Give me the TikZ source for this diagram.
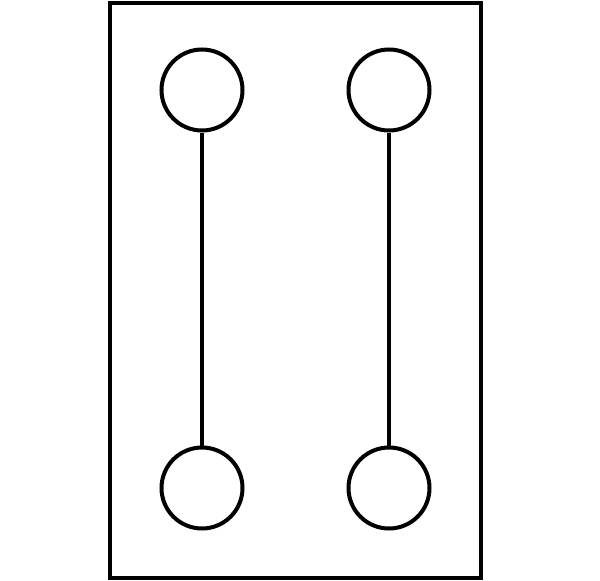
\documentclass[tikz,border=0pt]{standalone}
\begin{document}
\begin{tikzpicture}[x=1pt,y=-1pt,
  ring/.style={draw=black, circle, line width=4pt, minimum size=81pt, inner sep=0pt},
  rod/.style={draw=black, line width=3.5pt},
  frame/.style={draw=black, line width=4pt}]
\useasboundingbox (0,0) rectangle (600,581);
\draw[frame] (110,3) rectangle (481,578);
\node[ring] (tl) at (202,90) {};
\node[ring] (tr) at (389,90) {};
\node[ring] (bl) at (202,488) {};
\node[ring] (br) at (389,488) {};
\draw[rod] (tl) -- (bl);
\draw[rod] (tr) -- (br);
\end{tikzpicture}
\end{document}
